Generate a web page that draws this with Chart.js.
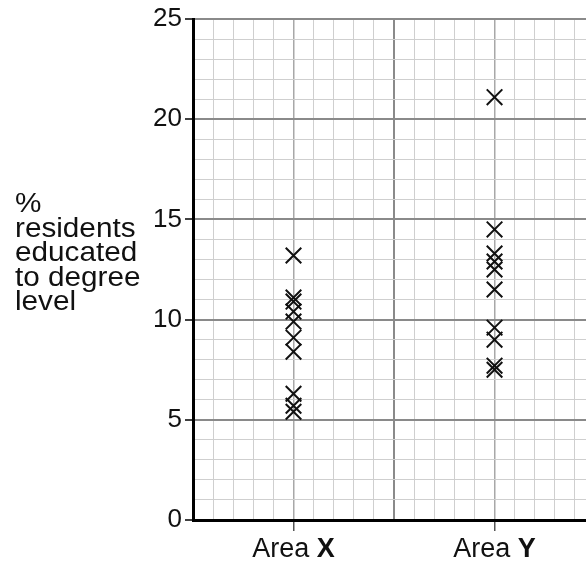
<!DOCTYPE html>
<html>
<head>
<meta charset="utf-8">
<script src="https://cdn.jsdelivr.net/npm/chart.js@4.4.0/dist/chart.umd.min.js"></script>
<style>
  html, body { margin: 0; padding: 0; background: #fff; }
  #wrap { width: 586px; height: 565px; }
</style>
</head>
<body>
<div id="wrap"><canvas id="chart"></canvas></div>
<script>
// values
var areaNames = ['X', 'Y'];
var areaPos = [5, 15];
var areaX = [13.2, 11.1, 10.9, 10.4, 9.9, 9.1, 8.4, 6.3, 5.7, 5.4];
var areaY = [21.1, 14.5, 13.3, 12.9, 12.5, 11.5, 9.6, 9.0, 7.7, 7.5];
var yTickLabels = [0, 5, 10, 15, 20, 25];
var yTitleLines = ['%', 'residents', 'educated', 'to degree', 'level'];

var FONT = 'Liberation Sans, Arial, sans-serif';

function toPoints(pos, vals) {
    return vals.map(function (v) { return { x: pos, y: v }; });
}

// draws the side label and the "Area X" / "Area Y" labels
var textPlugin = {
    id: 'textPlugin',
    afterDraw: function (chart) {
        var ctx = chart.ctx;
        ctx.save();
        ctx.fillStyle = '#111';
        ctx.textBaseline = 'alphabetic';
        ctx.textAlign = 'left';

        // the side label looks a bit stretched in the original
        ctx.save();
        ctx.translate(15, 0);
        ctx.scale(1.08, 1);
        ctx.font = '27.5px ' + FONT;
        for (var i = 0; i < yTitleLines.length; i++) {
            ctx.fillText(yTitleLines[i], 0, 212 + i * 24.5);
        }
        ctx.restore();

        var xs = chart.scales.x;
        var base = chart.chartArea.bottom + 37;
        for (var j = 0; j < areaNames.length; j++) {
            var px = xs.getPixelForValue(areaPos[j]);
            ctx.font = '27px ' + FONT;
            var w1 = ctx.measureText('Area ').width;
            ctx.font = 'bold 27px ' + FONT;
            var w2 = ctx.measureText(areaNames[j]).width;
            var left = px - (w1 + w2) / 2;
            ctx.font = '27px ' + FONT;
            ctx.fillText('Area ', left, base);
            ctx.font = 'bold 27px ' + FONT;
            ctx.fillText(areaNames[j], left + w1, base);
        }
        ctx.restore();
    }
};

var ctx = document.getElementById('chart').getContext('2d');
var myChart = new Chart(ctx, {
    type: 'scatter',
    data: {
        datasets: [{
            label: 'Area X',
            data: toPoints(areaPos[0], areaX),
            pointStyle: 'crossRot',
            pointRadius: 11,
            borderColor: '#111',
            borderWidth: 2
        }, {
            label: 'Area Y',
            data: toPoints(areaPos[1], areaY),
            pointStyle: 'crossRot',
            pointRadius: 11,
            borderColor: '#111',
            borderWidth: 2
        }]
    },
    options: {
        responsive: true,
        maintainAspectRatio: false,
        animation: false,
        layout: { autoPadding: false, padding: { top: 19, right: 0, left: 0, bottom: 0 } },
        plugins: {
            legend: { display: false },
            tooltip: { enabled: false }
        },
        scales: {
            x: {
                type: 'linear',
                min: 0,
                max: 19.55,
                afterFit: function (scale) { scale.height = 45; },
                border: { color: '#000', width: 3 },
                grid: {
                    color: function (c) {
                        var v = c.tick.value;
                        if (v === 10) return '#8a8a8a';
                        if (v === 5 || v === 15) return '#a8a8a8';
                        return '#cfcfcf';
                    },
                    lineWidth: function (c) {
                        var v = c.tick.value;
                        if (v === 10) return 2;
                        if (v === 5 || v === 15) return 1.5;
                        return 1;
                    },
                    tickLength: 11,
                    tickColor: function (c) {
                        var v = c.tick.value;
                        return (v === 5 || v === 15) ? '#555' : 'rgba(0,0,0,0)';
                    },
                    tickWidth: 1.5
                },
                ticks: {
                    stepSize: 1,
                    includeBounds: false,
                    autoSkip: false,
                    maxRotation: 0,
                    callback: function () { return ''; }
                }
            },
            y: {
                min: 0,
                max: 25,
                afterFit: function (scale) { scale.width = 193; },
                border: { color: '#000', width: 3 },
                grid: {
                    color: function (c) {
                        return c.tick.value % 5 === 0 ? '#8a8a8a' : '#cfcfcf';
                    },
                    lineWidth: function (c) {
                        return c.tick.value % 5 === 0 ? 2 : 1;
                    },
                    tickLength: 8,
                    tickColor: function (c) {
                        return c.tick.value % 5 === 0 ? '#000' : 'rgba(0,0,0,0)';
                    },
                    tickWidth: 1.5
                },
                ticks: {
                    stepSize: 1,
                    autoSkip: false,
                    padding: 3,
                    color: '#111',
                    font: { family: FONT, size: 26 },
                    callback: function (v) {
                        return yTickLabels.indexOf(v) >= 0 ? String(v) : '';
                    }
                }
            }
        }
    },
    plugins: [textPlugin]
});
</script>
</body>
</html>
